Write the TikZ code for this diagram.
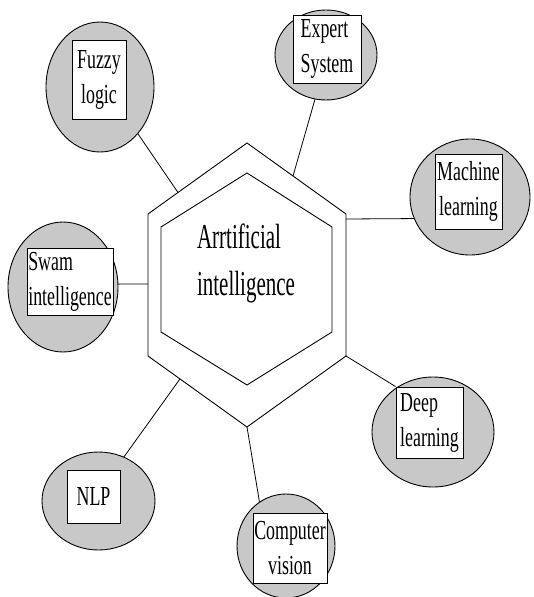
\documentclass[tikz,border=0pt]{standalone}
\usepackage{fontspec}
\setmainfont{Liberation Serif}[FakeStretch=0.65]
\newfontfamily\aifont{Liberation Serif}[FakeStretch=0.6]
\usetikzlibrary{shapes.geometric,calc}
\definecolor{satgray}{RGB}{200,200,200}
\begin{document}
\begin{tikzpicture}[x=1pt,y=-1pt,
  sat/.style={ellipse, draw, fill=satgray, inner sep=0pt, line width=0.9pt},
  lab/.style={rectangle, draw, fill=white, inner sep=0pt, align=center,
              font=\fontsize{27.5}{35}\selectfont, line width=0.9pt},
  hexline/.style={line width=0.9pt, line join=miter},
  link/.style={line width=0.8pt}]
\useasboundingbox (0,0) rectangle (533,597);
% hexagon corners
\coordinate (oT) at (247,143);  \coordinate (oUR) at (346,214);
\coordinate (oLR) at (346,356); \coordinate (oB) at (247,427);
\coordinate (oLL) at (148,356); \coordinate (oUL) at (148,214);
\coordinate (iT) at (247,173);  \coordinate (iUR) at (332,227);
\coordinate (iLR) at (332,332); \coordinate (iB) at (247,385);
\coordinate (iLL) at (161,332); \coordinate (iUL) at (161,227);
\draw[hexline] (oT) -- (oUR) -- (oLR) -- (oB) -- (oLL) -- (oUL) -- cycle;
\draw[hexline] (iT) -- (iUR) -- (iLR) -- (iB) -- (iLL) -- (iUL) -- cycle;
\node[inner sep=0pt, align=left, font=\aifont\fontsize{35}{47}\selectfont] (ai) at (246,263.3) {Arrtificial\\intelligence};
% connector starts
\coordinate (cF) at ($(oUL)!0.303!(oT)$);
\coordinate (cE) at ($(oT)!0.465!(oUR)$);
\coordinate (cM) at (346,219);
\coordinate (cS) at (148,284);
\coordinate (cN) at ($(oLL)!0.323!(oB)$);
% satellites
\node[sat, minimum width=108pt, minimum height=130pt] (fzE) at (100,87) {};
\node[sat, minimum width=102pt, minimum height=90pt] (exE) at (326,55) {};
\node[sat, minimum width=120pt, minimum height=116pt] (mlE) at (470,197) {};
\node[sat, minimum width=110pt, minimum height=130pt] (swE) at (63,287) {};
\node[sat, minimum width=122pt, minimum height=110pt] (dpE) at (433,432) {};
\node[sat, minimum width=113pt, minimum height=98pt] (nlpE) at (98.5,501) {};
\node[sat, minimum width=98pt, minimum height=104pt] (cvE) at (286,546) {};
\node[lab, minimum width=54pt, minimum height=79pt] (fz) at (99,79.5) {\raisebox{-6pt}{Fuzzy}\\\raisebox{-6pt}{logic}};
\node[lab, align=left, minimum width=68pt, minimum height=68pt] (ex) at (327,49) {Expert\\System};
\node[lab, minimum width=67pt, minimum height=75pt] (ml) at (468.5,191.5) {Machine\\learning};
\node[lab, align=left, minimum width=86pt, minimum height=67pt] (sw) at (70,281.5) {Swam\\intelligence};
\node[lab, align=left, minimum width=67pt, minimum height=71pt] (dp) at (429.5,422.5) {Deep\\learning};
\node[lab, minimum width=53pt, minimum height=53pt] (nlp) at (93.5,496.5) {NLP};
\node[lab, minimum width=74pt, minimum height=70pt] (cv) at (290,548) {Computer\\vision};
% connectors
\draw[link] (cF) -- (fzE.309);
\draw[link] (cE) -- (exE.256);
\draw[link] (cM) -- (mlE.201.6);
\draw[link] (cS) -- (swE.3);
\draw[link] (oLR) -- (dp.north west);
\draw[link] (cN) -- (nlpE.60);
\draw[link] (oB) -- (cvE.121);
\end{tikzpicture}
\end{document}
